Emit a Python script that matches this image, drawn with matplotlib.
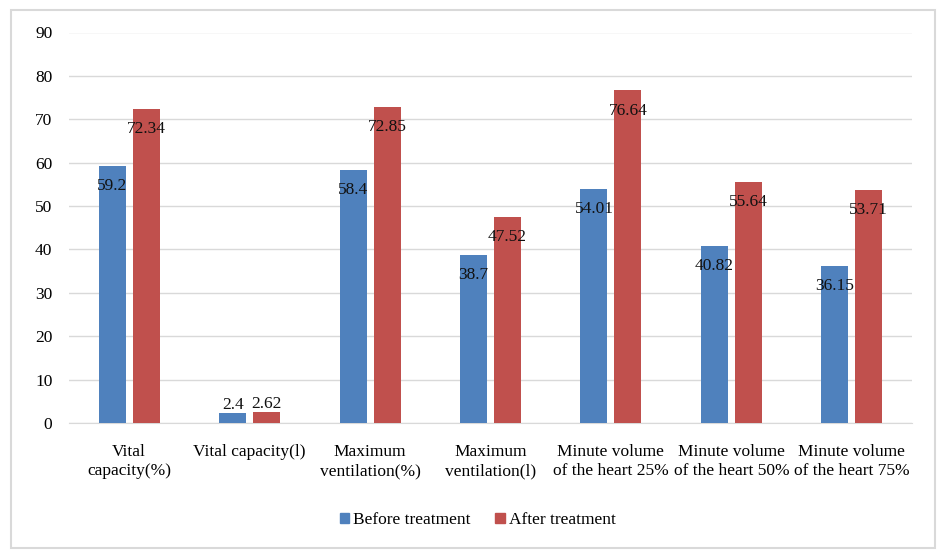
import numpy as np
import matplotlib.pyplot as plt
from matplotlib.patches import Rectangle, Patch

# 数据
categories = ['Vital\ncapacity(%)', 'Vital capacity(l)', 'Maximum\nventilation(%)',
              'Maximum\nventilation(l)', 'Minute volume\nof the heart 25%',
              'Minute volume\nof the heart 50%', 'Minute volume\nof the heart 75%']
before = [59.2, 2.4, 58.4, 38.7, 54.01, 40.82, 36.15]
after = [72.34, 2.62, 72.85, 47.52, 76.64, 55.64, 53.71]
yticks = list(range(0, 100, 10))

plt.rcParams['font.family'] = ['Liberation Serif', 'DejaVu Serif']
fs = 12.5

blue = '#4F81BD'
red = '#C0504D'
grid_c = '#D9D9D9'

fig = plt.figure(figsize=(9.46, 5.56), dpi=100)
ax = fig.add_axes([69 / 946, 1 - 423 / 556, (912 - 69) / 946, (423 - 32.5) / 556])

x = np.arange(len(categories))
w = 0.224
off = 0.141
b1 = ax.bar(x - off, before, w, color=blue, zorder=3)
b2 = ax.bar(x + off, after, w, color=red, zorder=3)

# 数据标签：放在柱子内部顶端，柱子太短时放在上方
for bars in (b1, b2):
    for r in bars:
        h = r.get_height()
        cx = r.get_x() + r.get_width() / 2
        if h > 5:
            ax.annotate(f'{h:g}', (cx, h), xytext=(0, -14.5), textcoords='offset points',
                        ha='center', va='center', fontsize=fs, color='#111111', zorder=4)
        else:
            ax.annotate(f'{h:g}', (cx, h), xytext=(0, 0), textcoords='offset points',
                        ha='center', va='bottom', fontsize=fs, color='#111111', zorder=4)

ax.set_xlim(-0.5, len(categories) - 0.5)
ax.set_ylim(0, 90)
ax.set_yticks(yticks)
ax.set_xticks(x)
ax.set_xticklabels(categories, fontsize=fs, linespacing=1.28)
ax.tick_params(axis='y', length=0, pad=12, labelsize=fs)
ax.tick_params(axis='x', length=0, pad=15)
ax.grid(axis='y', color=grid_c, linewidth=1, zorder=0)
for s in ['top', 'right', 'left']:
    ax.spines[s].set_visible(False)
ax.spines['bottom'].set_color(grid_c)
ax.spines['bottom'].set_zorder(2)

# 图例
handles = [Patch(color=blue), Patch(color=red)]
fig.legend(handles, ['Before treatment', 'After treatment'], loc='center',
           bbox_to_anchor=(0.505, 1 - 520 / 556), ncol=2, frameon=False, fontsize=fs,
           handlelength=0.55, handleheight=0.55, handletextpad=0.25, columnspacing=1.4)

# 外边框
fig.patches.append(Rectangle((11 / 946, 1 - 548 / 556), (935 - 11) / 946, (548 - 10) / 556,
                             transform=fig.transFigure, fill=False, edgecolor=grid_c,
                             linewidth=1.5))

fig.savefig('out.png', dpi=100)
